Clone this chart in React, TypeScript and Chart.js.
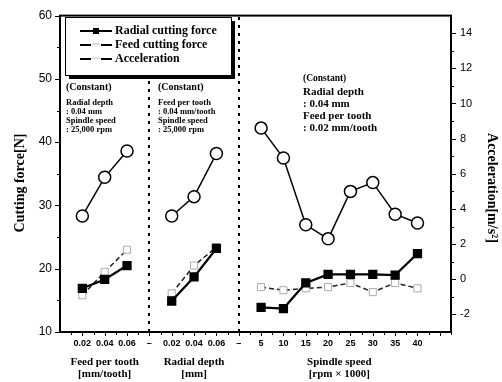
import React, { useEffect, useRef } from 'react';
import { Chart, registerables } from 'chart.js';
Chart.register(...registerables);

// Categories
const feedPerTooth = ['0.02', '0.04', '0.06'];
const radialDepth = ['0.02', '0.04', '0.06'];
const spindleSpeed = ['5', '10', '15', '20', '25', '30', '35', '40'];
const xTickLabels = [...feedPerTooth, '–', ...radialDepth, '–', ...spindleSpeed];

// Radial cutting force [N]
const radialForceFeed = [16.9, 18.3, 20.5];
const radialForceDepth = [14.9, 18.7, 23.2];
const radialForceSpeed = [13.9, 13.7, 17.75, 19.1, 19.1, 19.1, 19.0, 22.4];
// Feed cutting force [N]
const feedForceFeed = [15.8, 19.5, 23.0];
const feedForceDepth = [16.1, 20.5, 23.4];
const feedForceSpeed = [17.1, 16.6, 16.9, 17.1, 17.75, 16.3, 17.75, 16.9];
// Acceleration [m/s^2]
const accelFeed = [3.6, 5.8, 7.3];
const accelDepth = [3.6, 4.7, 7.15];
const accelSpeed = [8.6, 6.9, 3.1, 2.3, 5.0, 5.5, 3.7, 3.2];

const leftTicks = [10, 20, 30, 40, 50, 60];
const rightTicks = [-2, 0, 2, 4, 6, 8, 10, 12, 14];

function toPoints(a: number[], b: number[], c: number[]) {
  const pts: { x: number; y: number | null }[] = [];
  let x = 1;
  a.forEach((v) => pts.push({ x: x++, y: v }));
  pts.push({ x: x++, y: null });
  b.forEach((v) => pts.push({ x: x++, y: v }));
  pts.push({ x: x++, y: null });
  c.forEach((v) => pts.push({ x: x++, y: v }));
  return pts;
}

const SERIF = "'Liberation Serif', 'DejaVu Serif', serif";
const SANS = "'Liberation Sans', Arial, sans-serif";

const drawPlugin = {
  id: 'decor',
  beforeDatasetsDraw(chart: any) {
    const { ctx, chartArea: a, scales } = chart;
    const xs = scales.x;
    ctx.save();
    ctx.strokeStyle = '#000';
    ctx.lineWidth = 2;
    ctx.setLineDash([3, 5]);
    [4, 8].forEach((v) => {
      const px = Math.round(xs.getPixelForValue(v));
      ctx.beginPath();
      ctx.moveTo(px, a.bottom);
      ctx.lineTo(px, a.top);
      ctx.stroke();
    });
    ctx.restore();
  },
  afterDraw(chart: any) {
    const { ctx, chartArea: a, scales } = chart;
    const xs = scales.x, yl = scales.y, yr = scales.yR;
    ctx.save();
    // frame
    ctx.strokeStyle = '#000';
    ctx.lineWidth = 2;
    ctx.strokeRect(a.left, a.top, a.right - a.left, a.bottom - a.top);
    ctx.lineWidth = 1;
    // left ticks
    for (let v = 10; v <= 60; v += 5) {
      const py = Math.round(yl.getPixelForValue(v)) + 0.5;
      const len = v % 10 === 0 ? 5 : 3;
      ctx.beginPath();
      ctx.moveTo(a.left - len, py);
      ctx.lineTo(a.left, py);
      ctx.stroke();
    }
    // right ticks
    for (let v = -2; v <= 14; v += 1) {
      const py = Math.round(yr.getPixelForValue(v)) + 0.5;
      const len = v % 2 === 0 ? 5 : 3;
      ctx.beginPath();
      ctx.moveTo(a.right, py);
      ctx.lineTo(a.right + len, py);
      ctx.stroke();
    }
    // bottom ticks
    for (let v = 0.5; v <= 17.5; v += 0.5) {
      const px = Math.round(xs.getPixelForValue(v)) + 0.5;
      const len = Number.isInteger(v) ? 4 : 3;
      ctx.beginPath();
      ctx.moveTo(px, a.bottom);
      ctx.lineTo(px, a.bottom + len);
      ctx.stroke();
    }

    // legend box
    const lx = 65, ly = 17, lw = 166, lh = 58;
    ctx.fillStyle = '#000';
    ctx.fillRect(lx + 4, ly + 4, lw, lh);
    ctx.fillStyle = '#fff';
    ctx.fillRect(lx, ly, lw, lh);
    ctx.strokeStyle = '#000';
    ctx.lineWidth = 1;
    ctx.strokeRect(lx + 0.5, ly + 0.5, lw, lh);

    const items = [
      { label: 'Radial cutting force', y: 31, type: 'radial' },
      { label: 'Feed cutting force', y: 45, type: 'feed' },
      { label: 'Acceleration', y: 59, type: 'accel' },
    ];
    items.forEach((it) => {
      ctx.strokeStyle = '#000';
      if (it.type === 'radial') {
        ctx.lineWidth = 2;
        ctx.setLineDash([]);
        ctx.beginPath();
        ctx.moveTo(80, it.y);
        ctx.lineTo(112, it.y);
        ctx.stroke();
        ctx.fillStyle = '#000';
        ctx.fillRect(93, it.y - 3, 6, 6);
      } else {
        ctx.lineWidth = 2;
        ctx.setLineDash([]);
        ctx.beginPath();
        ctx.moveTo(80, it.y);
        ctx.lineTo(91, it.y);
        ctx.moveTo(101, it.y);
        ctx.lineTo(112, it.y);
        ctx.stroke();
        ctx.lineWidth = 1;
        ctx.strokeStyle = '#bbb';
        ctx.beginPath();
        ctx.moveTo(92, it.y - 1);
        ctx.lineTo(100, it.y - 1);
        ctx.stroke();
      }
      ctx.fillStyle = '#000';
      ctx.font = `bold 12px ${SERIF}`;
      ctx.textAlign = 'left';
      ctx.textBaseline = 'middle';
      ctx.fillText(it.label, 115, it.y);
    });

    // constant-condition notes
    ctx.fillStyle = '#000';
    ctx.textAlign = 'left';
    ctx.textBaseline = 'middle';
    const note = (x: number, lines: [string, number, number][]) => {
      lines.forEach(([t, y, size]) => {
        ctx.font = `bold ${size}px ${SERIF}`;
        ctx.fillText(t, x, y);
      });
    };
    note(66, [
      ['(Constant)', 87, 10],
      ['Radial depth', 103, 8.5],
      [': 0.04 mm', 112, 8.5],
      ['Spindle speed', 121, 8.5],
      [': 25,000 rpm', 130, 8.5],
    ]);
    note(158, [
      ['(Constant)', 87, 10],
      ['Feed per tooth', 103, 8.5],
      [': 0.04 mm/tooth', 112, 8.5],
      ['Spindle speed', 121, 8.5],
      [': 25,000 rpm', 130, 8.5],
    ]);
    note(303, [
      ['(Constant)', 79, 9.5],
      ['Radial depth', 92, 11],
      [': 0.04 mm', 104, 11],
      ['Feed per tooth', 116, 11],
      [': 0.02 mm/tooth', 128, 11],
    ]);

    // x group titles
    ctx.textAlign = 'center';
    ctx.font = `bold 11px ${SERIF}`;
    const gx = (v: number) => xs.getPixelForValue(v);
    ctx.fillText('Feed per tooth', gx(2), 362);
    ctx.fillText('[mm/tooth]', gx(2), 374);
    ctx.fillText('Radial depth', gx(6), 362);
    ctx.fillText('[mm]', gx(6), 374);
    ctx.fillText('Spindle speed', gx(12.5), 362);
    ctx.fillText('[rpm × 1000]', gx(12.5), 374);

    // y titles
    ctx.font = `bold 14px ${SERIF}`;
    ctx.save();
    ctx.translate(20, 183);
    ctx.rotate(-Math.PI / 2);
    ctx.fillText('Cutting force[N]', 0, 0);
    ctx.restore();
    ctx.save();
    ctx.translate(492, 188);
    ctx.rotate(Math.PI / 2);
    ctx.fillText('Acceleration[m/s²]', 0, 0);
    ctx.restore();

    ctx.restore();
  },
};

export default function App() {
  const ref = useRef<HTMLCanvasElement>(null);
  useEffect(() => {
    if (!ref.current) return;
    const chart = new Chart(ref.current, {
      type: 'line',
      data: {
        datasets: [
          {
            label: 'Radial cutting force',
            data: toPoints(radialForceFeed, radialForceDepth, radialForceSpeed),
            yAxisID: 'y',
            borderColor: '#000',
            borderWidth: 2.2,
            pointStyle: 'rect',
            pointRadius: 5,
            pointBackgroundColor: '#000',
            pointBorderColor: '#000',
            spanGaps: false,
          },
          {
            label: 'Feed cutting force',
            data: toPoints(feedForceFeed, feedForceDepth, feedForceSpeed),
            yAxisID: 'y',
            borderColor: '#222',
            borderWidth: 1.5,
            borderDash: [5, 3],
            pointStyle: 'rect',
            pointRadius: 5,
            pointBackgroundColor: '#fff',
            pointBorderColor: '#aaa',
            pointBorderWidth: 1,
            spanGaps: false,
          },
          {
            label: 'Acceleration',
            data: toPoints(accelFeed, accelDepth, accelSpeed),
            yAxisID: 'yR',
            borderColor: '#000',
            borderWidth: 1.5,
            pointStyle: 'circle',
            pointRadius: 6,
            pointBackgroundColor: '#fff',
            pointBorderColor: '#000',
            pointBorderWidth: 1.5,
            spanGaps: false,
          },
        ],
      },
      options: {
        animation: false,
        responsive: true,
        maintainAspectRatio: false,
        layout: { padding: { top: 14, left: 0, right: 0, bottom: 0 } },
        plugins: { legend: { display: false }, tooltip: { enabled: false } },
        scales: {
          x: {
            type: 'linear',
            min: 0,
            max: 17.5,
            afterBuildTicks: (s: any) => {
              s.ticks = xTickLabels.map((_, i) => ({ value: i + 1 }));
            },
            ticks: {
              autoSkip: false,
              maxRotation: 0,
              padding: 6,
              color: '#000',
              font: { family: SANS, size: 9, weight: 'bold' },
              callback: (v: any) => xTickLabels[Number(v) - 1] ?? '',
            },
            grid: { display: false, drawTicks: false },
            border: { display: false },
            afterFit: (s: any) => { s.height = 50; },
          },
          y: {
            type: 'linear',
            position: 'left',
            min: 10,
            max: 60,
            afterBuildTicks: (s: any) => {
              s.ticks = leftTicks.map((v) => ({ value: v }));
            },
            ticks: {
              padding: 8,
              color: '#000',
              font: { family: SANS, size: 12 },
            },
            grid: { display: false, drawTicks: false },
            border: { display: false },
            afterFit: (s: any) => { s.width = 60; },
          },
          yR: {
            type: 'linear',
            position: 'right',
            min: -3,
            max: 15,
            afterBuildTicks: (s: any) => {
              s.ticks = rightTicks.map((v) => ({ value: v }));
            },
            ticks: {
              padding: 9,
              color: '#000',
              font: { family: SANS, size: 11 },
            },
            grid: { display: false, drawTicks: false },
            border: { display: false },
            afterFit: (s: any) => { s.width = 51; },
          },
        },
      },
      plugins: [drawPlugin],
    } as any);
    return () => chart.destroy();
  }, []);
  return (
    <div style={{ position: 'absolute', left: 0, top: 0, width: 502, height: 382, background: '#fff' }}>
      <canvas ref={ref} />
    </div>
  );
}
